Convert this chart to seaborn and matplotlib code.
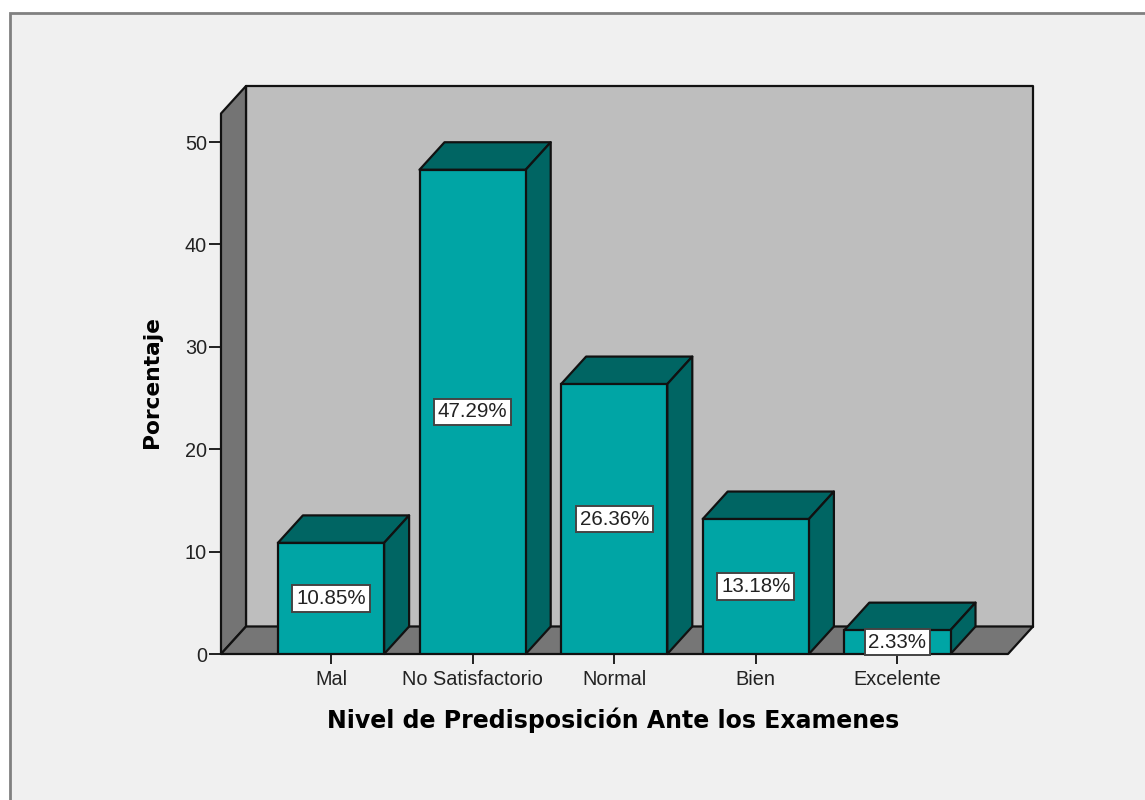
import matplotlib
matplotlib.use('Agg')
import matplotlib.pyplot as plt
from matplotlib.patches import Polygon, Rectangle
import pandas as pd
import seaborn as sns

# Datos
niveles = ['Mal', 'No Satisfactorio', 'Normal', 'Bien', 'Excelente']
porcentajes = [10.85, 47.29, 26.36, 13.18, 2.33]
ticks_y = [0, 10, 20, 30, 40, 50]

df = pd.DataFrame({'Nivel': niveles, 'Porcentaje': porcentajes})

W, H = 1145, 800
FRONT = '#00A5A5'
DARK = '#006563'
LINE = '#111111'
LW = 1.6

sns.set_theme(style='white')
plt.rcParams['font.family'] = ['Liberation Sans', 'DejaVu Sans']

fig = plt.figure(figsize=(W / 100, H / 100), dpi=100, facecolor='white')
fig.add_artist(Rectangle((10 / W, -0.05), 1.1, 1.05 - 13 / H, transform=fig.transFigure,
                         facecolor='#F0F0F0', edgecolor='#808080', linewidth=2, zorder=-1))

# axes de 221 a 1033 px, eje cero en y=654
ax = fig.add_axes([221 / W, 1 - 654 / H, (1033 - 221) / W, (654 - 86) / H])
ax.patch.set_visible(False)

sns.barplot(data=df, x='Nivel', y='Porcentaje', color=FRONT, saturation=1, width=0.75,
            edgecolor=LINE, linewidth=LW, ax=ax, zorder=3)

px_x = 141.6
px_y = 10.24
dx = 25 / px_x
dy = 27.5 / px_y
x0 = -110 / px_x
x1 = x0 + 812 / px_x
y_top = 568 / px_y
ax.set_xlim(x0, x1)
ax.set_ylim(0, y_top)


def poly(pts, color, z=1):
    ax.add_patch(Polygon(pts, closed=True, facecolor=color, edgecolor=LINE, linewidth=LW,
                         joinstyle='round', clip_on=False, zorder=z))


# paredes y suelo
poly([(x0 + dx, dy), (x1, dy), (x1, y_top), (x0 + dx, y_top)], '#BEBEBE')
poly([(x0, 0), (x0 + dx, dy), (x0 + dx, y_top), (x0, y_top - dy)], '#747474')
poly([(x0, 0), (x1 - dx, 0), (x1, dy), (x0 + dx, dy)], '#767676')

# caras laterales y superiores de las barras
for bar in ax.containers[0]:
    l, r = bar.get_x(), bar.get_x() + bar.get_width()
    t = bar.get_height()
    poly([(l, t), (r, t), (r + dx, t + dy), (l + dx, t + dy)], DARK, 2)
    poly([(r, 0), (r + dx, dy), (r + dx, t + dy), (r, t)], DARK, 2)

labels = ax.bar_label(ax.containers[0], labels=[f'{v:.2f}%' for v in porcentajes],
                      label_type='center', fontsize=14.8, color='#222222', zorder=6,
                      bbox=dict(boxstyle='square,pad=0.18', facecolor='white',
                                edgecolor='#444444', linewidth=1.4))
for t in labels:
    t.set_clip_on(False)

for s in ax.spines.values():
    s.set_visible(False)

ax.set_yticks(ticks_y)
ax.tick_params(axis='y', length=9, width=1.3, color=LINE, labelsize=14.3, pad=1,
               labelcolor='#222222', left=True)
ax.tick_params(axis='x', length=7.5, width=1.3, color=LINE, labelsize=14.3, pad=4,
               labelcolor='#222222', bottom=True)

ax.set_xlabel('')
ax.set_ylabel('')
fig.text(613 / W, 1 - 720 / H, 'Nivel de Predisposición Ante los Examenes', ha='center',
         va='center', fontsize=17, fontweight='bold', family='DejaVu Sans', color='black')
fig.text(152 / W, 1 - 382 / H, 'Porcentaje', ha='center', va='center', rotation=90,
         fontsize=15.7, fontweight='bold', family='DejaVu Sans', color='black')

fig.savefig('out.png', dpi=100, facecolor='white')
